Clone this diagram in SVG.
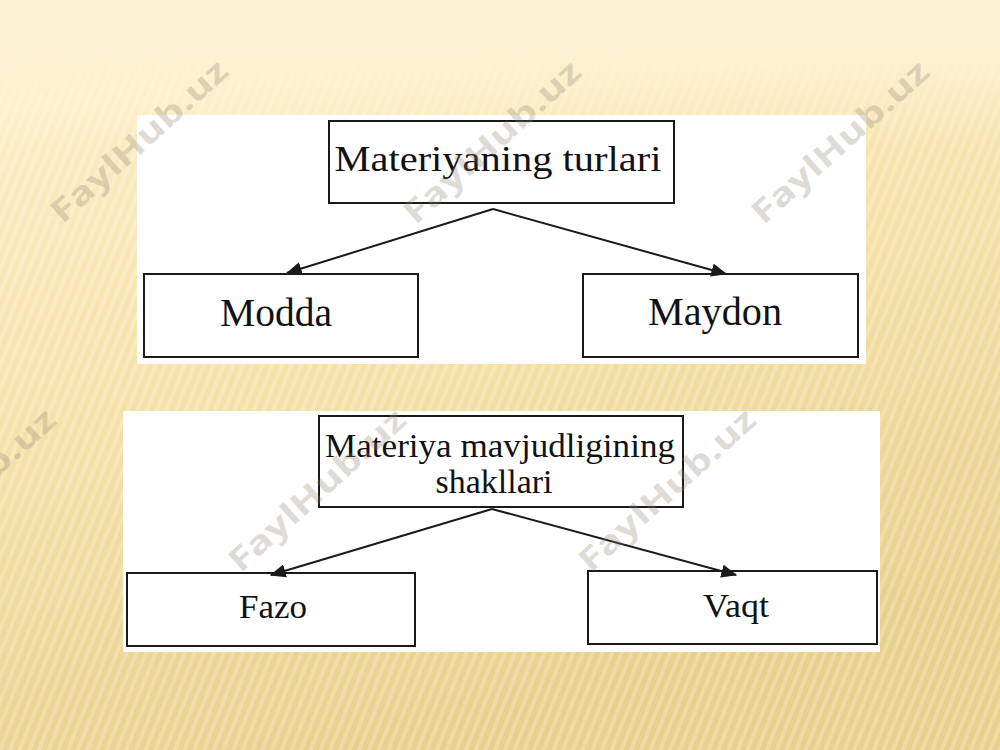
<svg xmlns="http://www.w3.org/2000/svg" width="1000" height="750" viewBox="0 0 1000 750">
  <style>
    .panel { fill: #ffffff; }
    .box { fill: #ffffff; stroke: #1a1a1a; stroke-width: 2; }
    .lbl { font-family: "Liberation Serif", "Times New Roman", serif; fill: #111111; text-anchor: middle; }
    .edge { stroke: #1a1a1a; stroke-width: 2; fill: none; marker-end: url(#arrow); }
    .wm { font-family: "Open Sans", "DejaVu Sans", sans-serif; font-weight: bold; font-size: 32px; fill: #8c8270; fill-opacity: 0.28; text-anchor: middle; }
  </style>
  <defs>
    <linearGradient id="bg" x1="0" y1="0" x2="0.35" y2="1">
      <stop offset="0" stop-color="#fdf2d2"/>
      <stop offset="0.08" stop-color="#fcefc9"/>
      <stop offset="0.5" stop-color="#f6e2aa"/>
      <stop offset="1" stop-color="#e8cf8c"/>
    </linearGradient>
    <linearGradient id="fadeTop" x1="0" y1="0" x2="0" y2="1">
      <stop offset="0" stop-color="#fdf2d2" stop-opacity="1"/>
      <stop offset="0.06" stop-color="#fdf2d2" stop-opacity="1"/>
      <stop offset="0.2" stop-color="#fdf2d2" stop-opacity="0"/>
      <stop offset="1" stop-color="#fdf2d2" stop-opacity="0"/>
    </linearGradient>
    <pattern id="stripes" patternUnits="userSpaceOnUse" width="9" height="40" patternTransform="rotate(22)">
      <rect x="0" y="0" width="4" height="40" fill="#ffffff" fill-opacity="0.22"/>
    </pattern>
    <marker id="arrow" viewBox="0 0 12 10" refX="11" refY="5" markerWidth="8" markerHeight="7" markerUnits="strokeWidth" orient="auto">
      <path d="M0,0 L12,5 L0,10 Z" fill="#1a1a1a"/>
    </marker>
  </defs>

  <!-- background -->
  <rect x="0" y="0" width="1000" height="750" fill="url(#bg)"/>
  <rect x="0" y="0" width="1000" height="750" fill="url(#stripes)"/>
  <rect x="0" y="0" width="1000" height="750" fill="url(#fadeTop)"/>

  <!-- panels -->
  <rect class="panel" x="137" y="115" width="729" height="249"/>
  <rect class="panel" x="123" y="411" width="757" height="241"/>

  <!-- diagram 1 -->
  <g id="node-materiyaning-turlari">
    <rect class="box" x="329" y="121" width="345" height="82"/>
    <text class="lbl" x="498" y="171" font-size="36" textLength="327" lengthAdjust="spacingAndGlyphs">Materiyaning turlari</text>
  </g>
  <g id="node-modda">
    <rect class="box" x="144" y="274" width="274" height="83"/>
    <text class="lbl" x="276" y="326" font-size="39" textLength="112" lengthAdjust="spacingAndGlyphs">Modda</text>
  </g>
  <g id="node-maydon">
    <rect class="box" x="583" y="274" width="275" height="83"/>
    <text class="lbl" x="715" y="325" font-size="39" textLength="134" lengthAdjust="spacingAndGlyphs">Maydon</text>
  </g>

  <!-- diagram 2 -->
  <g id="node-materiya-mavjudligining-shakllari">
    <rect class="box" x="319" y="416" width="364" height="91"/>
    <text class="lbl" x="500" y="457" font-size="34" textLength="350" lengthAdjust="spacingAndGlyphs">Materiya mavjudligining</text>
    <text class="lbl" x="494" y="493" font-size="34" textLength="117" lengthAdjust="spacingAndGlyphs">shakllari</text>
  </g>
  <g id="node-fazo">
    <rect class="box" x="127" y="573" width="288" height="73"/>
    <text class="lbl" x="273" y="618" font-size="34" textLength="68" lengthAdjust="spacingAndGlyphs">Fazo</text>
  </g>
  <g id="node-vaqt">
    <rect class="box" x="588" y="571" width="289" height="73"/>
    <text class="lbl" x="736" y="617" font-size="34" textLength="66" lengthAdjust="spacingAndGlyphs">Vaqt</text>
  </g>

  <!-- connectors -->
  <g id="connectors">
    <line class="edge" x1="493" y1="209" x2="287" y2="273"/>
    <line class="edge" x1="493" y1="209" x2="726" y2="274"/>
    <line class="edge" x1="492" y1="509" x2="271" y2="575"/>
    <line class="edge" x1="492" y1="509" x2="736" y2="575"/>
  </g>

  <!-- watermarks -->
  <g id="watermarks">
    <text class="wm" transform="translate(139,141) rotate(-42)" x="0" y="11" textLength="226" lengthAdjust="spacingAndGlyphs">FaylHub.uz</text>
    <text class="wm" transform="translate(492,142) rotate(-42)" x="0" y="11" textLength="226" lengthAdjust="spacingAndGlyphs">FaylHub.uz</text>
    <text class="wm" transform="translate(840,142) rotate(-42)" x="0" y="11" textLength="226" lengthAdjust="spacingAndGlyphs">FaylHub.uz</text>
    <text class="wm" transform="translate(-33,490) rotate(-42)" x="0" y="11" textLength="226" lengthAdjust="spacingAndGlyphs">FaylHub.uz</text>
    <text class="wm" transform="translate(317,490) rotate(-42)" x="0" y="11" textLength="226" lengthAdjust="spacingAndGlyphs">FaylHub.uz</text>
    <text class="wm" transform="translate(667,490) rotate(-42)" x="0" y="11" textLength="226" lengthAdjust="spacingAndGlyphs">FaylHub.uz</text>
  </g>
</svg>
